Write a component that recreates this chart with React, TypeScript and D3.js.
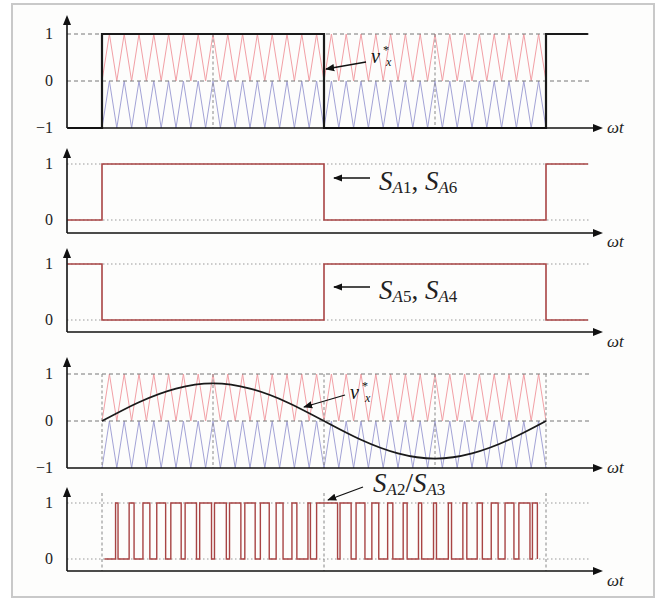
import React from "react";
import * as d3 from "d3";

// ωt in degrees, one fundamental period = 0..360
const stepBounds = [-28, 0, 180, 360, 394];
const vxSquare = [-1, 1, -1, 1];
const sA1Levels = [0, 1, 0, 1];
const sA5Levels = [1, 0, 1, 0];
const ticksBipolar = [1, 0, -1];
const ticksSwitch = [1, 0];
const carrierPeriod = 12; // degrees per carrier cycle
// modulating reference v*x, sampled every 30°
const refSamples = [0, 0.4, 0.69, 0.8, 0.69, 0.4, 0, -0.4, -0.69, -0.8, -0.69, -0.4, 0];
// S_A2/S_A3 on-intervals [rise, fall] in degrees
const pulses: [number, number][] = [
  [11, 13], [22, 26], [33.2, 38.8], [44.4, 51.6], [55.8, 64.2], [67.4, 76.6], [79.2, 88.8],
  [91.2, 100.8], [103.4, 112.6], [115.8, 124.2], [128.4, 135.6], [141.2, 146.8], [154, 158],
  [167, 169], [174, 191], [193, 202], [206, 213.2], [218.8, 224.4], [231.6, 235.8],
  [244.2, 247.4], [256.6, 259.2], [268.8, 271.2], [280.8, 283.4], [292.6, 295.8],
  [304.2, 308.4], [315.6, 321.2], [326.8, 334], [338, 347], [349, 353],
];
const pulseStart = 2;
const guidesTop = [90, 270];
const guidesSine = [0, 90, 180, 270, 360];
const guidesPwm = [0, 180, 360];

const FONT = "'Liberation Serif', 'Times New Roman', Tinos, 'DejaVu Serif', 'Noto Serif', Times, serif";
const x = d3.scaleLinear().domain([0, 360]).range([102, 546]);
const AX_X = 67;
const LINE_END = 589;
const ARROW_END = 603;

type Pan = { tip: number; axis: number; y: d3.ScaleLinear<number, number> };
const mk = (tip: number, axis: number, y0: number, y1: number): Pan => ({
  tip,
  axis,
  y: d3.scaleLinear().domain([0, 1]).range([y0, y1]),
});
const p1 = mk(15, 128, 81, 34);
const p2 = mk(148, 233, 220, 164);
const p3 = mk(248, 332, 320, 264);
const p4 = mk(357, 468, 421, 374);
const p5 = mk(487, 571, 559, 503);

const Axes = ({ p, ticks, wt }: { p: Pan; ticks: number[]; wt: number }) => (
  <g>
    <line x1={AX_X} y1={p.axis} x2={AX_X} y2={p.tip + 6} stroke="#111" strokeWidth={1.6} />
    <path d={`M${AX_X},${p.tip} L${AX_X - 4},${p.tip + 10} L${AX_X + 4},${p.tip + 10} Z`} fill="#111" />
    <line x1={AX_X} y1={p.axis} x2={ARROW_END - 6} y2={p.axis} stroke="#111" strokeWidth={1.6} />
    <path
      d={`M${ARROW_END},${p.axis} L${ARROW_END - 10},${p.axis - 4} L${ARROW_END - 10},${p.axis + 4} Z`}
      fill="#111"
    />
    {ticks.map((t) => (
      <text key={t} x={53} y={p.y(t) + 5} textAnchor="end" fontSize={16} style={{ fontFamily: FONT }} fill="#222">
        {t < 0 ? `\u2212${-t}` : t}
      </text>
    ))}
    <text x={607} y={wt} fontSize={17} style={{ fontFamily: FONT }} fontStyle="italic" fill="#222">
      ωt
    </text>
  </g>
);

const hLines = (p: Pan, levels: number[], dash: string, color: string) =>
  levels.map((l) => (
    <line key={`h${l}`} x1={AX_X} x2={LINE_END} y1={p.y(l)} y2={p.y(l)} stroke={color} strokeWidth={1} strokeDasharray={dash} />
  ));

const vLines = (p: Pan, at: number[], top: number, bottom: number) =>
  at.map((t) => (
    <line key={`v${t}`} x1={x(t)} x2={x(t)} y1={top} y2={bottom} stroke="#888" strokeWidth={1} strokeDasharray="3,2.5" />
  ));

const stepPath = (p: Pan, levels: number[]) => {
  const pts: [number, number][] = levels.map((v, i) => [stepBounds[i], v]);
  pts.push([stepBounds[stepBounds.length - 1], levels[levels.length - 1]]);
  return d3
    .line<[number, number]>()
    .x((d) => x(d[0]))
    .y((d) => p.y(d[1]))
    .curve(d3.curveStepAfter)(pts) as string;
};

const carrierPts = d3.range(0, 360 + 0.01, carrierPeriod / 2).map((t, i) => [t, i % 2] as [number, number]);
const carrierPath = (p: Pan, offset: number) =>
  d3
    .line<[number, number]>()
    .x((d) => x(d[0]))
    .y((d) => p.y(d[1] + offset))(carrierPts) as string;

const Carriers = ({ p }: { p: Pan }) => (
  <g>
    <path d={carrierPath(p, 0)} fill="none" stroke="#f2a0a6" strokeWidth={1} />
    <path d={carrierPath(p, -1)} fill="none" stroke="#a3a3d6" strokeWidth={1} />
  </g>
);

const refPath = d3
  .line<number>()
  .x((_, i) => x(i * 30))
  .y((d) => p4.y(d))
  .curve(d3.curveNatural)(refSamples) as string;

const pwmPts: [number, number][] = [[pulseStart, 0]];
pulses.forEach(([a, b]) => {
  pwmPts.push([a, 1]);
  pwmPts.push([b, 0]);
});
const pwmPath = d3
  .line<[number, number]>()
  .x((d) => x(d[0]))
  .y((d) => p5.y(d[1]))
  .curve(d3.curveStepAfter)(pwmPts) as string;

const Sw = ({ xx, y, a, b, sep }: { xx: number; y: number; a: string; b: string; sep: string }) => (
  <text x={xx} y={y} style={{ fontFamily: FONT }} fill="#222" fontSize={27}>
    <tspan fontStyle="italic">S</tspan>
    <tspan fontSize={17} dy={3}>
      <tspan fontStyle="italic">A</tspan>
      {a}
    </tspan>
    <tspan dy={-3}>{sep}</tspan>
    <tspan fontStyle="italic">S</tspan>
    <tspan fontSize={17} dy={3}>
      <tspan fontStyle="italic">A</tspan>
      {b}
    </tspan>
  </text>
);

const VStar = ({ xx, y }: { xx: number; y: number }) => (
  <g style={{ fontFamily: FONT }} fill="#111">
    <text x={xx} y={y} fontSize={20} fontStyle="italic">v</text>
    <text x={xx + 12} y={y - 9} fontSize={12}>*</text>
    <text x={xx + 15} y={y + 3} fontSize={12} fontStyle="italic">x</text>
  </g>
);

export default function App() {
  return (
    <svg width={662} height={599} style={{ position: "absolute", left: 0, top: 0, background: "#fff" }}>
      <defs>
        <marker id="ah" viewBox="0 0 10 10" refX={9} refY={5} markerWidth={7} markerHeight={7} orient="auto">
          <path d="M0,1 L10,5 L0,9 Z" fill="#111" />
        </marker>
      </defs>
      <rect x={12} y={4} width={642} height={593} fill="#fdfdfc" stroke="#c9c9c9" strokeWidth={2} />

      {/* panel 1: square-wave reference vs carriers */}
      <Carriers p={p1} />
      {hLines(p1, [1, 0], "4,3", "#777")}
      {vLines(p1, guidesTop, p1.y(1), p1.y(-1))}
      <path d={stepPath(p1, vxSquare)} fill="none" stroke="#1a1a1a" strokeWidth={2.2} />
      <Axes p={p1} ticks={ticksBipolar} wt={133} />
      <line x1={366} y1={62} x2={326} y2={69} stroke="#111" strokeWidth={1.3} markerEnd="url(#ah)" />
      <VStar xx={371} y={63} />

      {/* panel 2 */}
      {hLines(p2, [1, 0], "1.5,2.5", "#999")}
      <path d={stepPath(p2, sA1Levels)} fill="none" stroke="#a84444" strokeWidth={1.6} />
      <Axes p={p2} ticks={ticksSwitch} wt={247} />
      <line x1={370} y1={178} x2={334} y2={178} stroke="#111" strokeWidth={1.3} markerEnd="url(#ah)" />
      <Sw xx={379} y={190} a="1" b="6" sep=", " />

      {/* panel 3 */}
      {hLines(p3, [1, 0], "1.5,2.5", "#999")}
      <path d={stepPath(p3, sA5Levels)} fill="none" stroke="#a84444" strokeWidth={1.6} />
      <Axes p={p3} ticks={ticksSwitch} wt={347} />
      <line x1={370} y1={287} x2={334} y2={287} stroke="#111" strokeWidth={1.3} markerEnd="url(#ah)" />
      <Sw xx={379} y={299} a="5" b="4" sep=", " />

      {/* panel 4: sinusoidal reference vs carriers */}
      <Carriers p={p4} />
      {hLines(p4, [1, 0], "4,3", "#777")}
      {vLines(p4, guidesSine, p4.y(1), p4.y(-1))}
      <path d={refPath} fill="none" stroke="#1a1a1a" strokeWidth={1.8} />
      <Axes p={p4} ticks={ticksBipolar} wt={473} />
      <line x1={345} y1={395} x2={304} y2={407} stroke="#111" strokeWidth={1.3} markerEnd="url(#ah)" />
      <VStar xx={350} y={399} />

      {/* panel 5: PWM gate signal */}
      {hLines(p5, [1, 0], "1.5,2.5", "#999")}
      {vLines(p5, guidesPwm, 493, p5.axis)}
      <path d={pwmPath} fill="none" stroke="#a84444" strokeWidth={1.4} />
      <Axes p={p5} ticks={ticksSwitch} wt={586} />
      <line x1={363} y1={487} x2={328} y2={500} stroke="#111" strokeWidth={1.3} markerEnd="url(#ah)" />
      <Sw xx={373} y={492} a="2" b="3" sep="/" />
    </svg>
  );
}
